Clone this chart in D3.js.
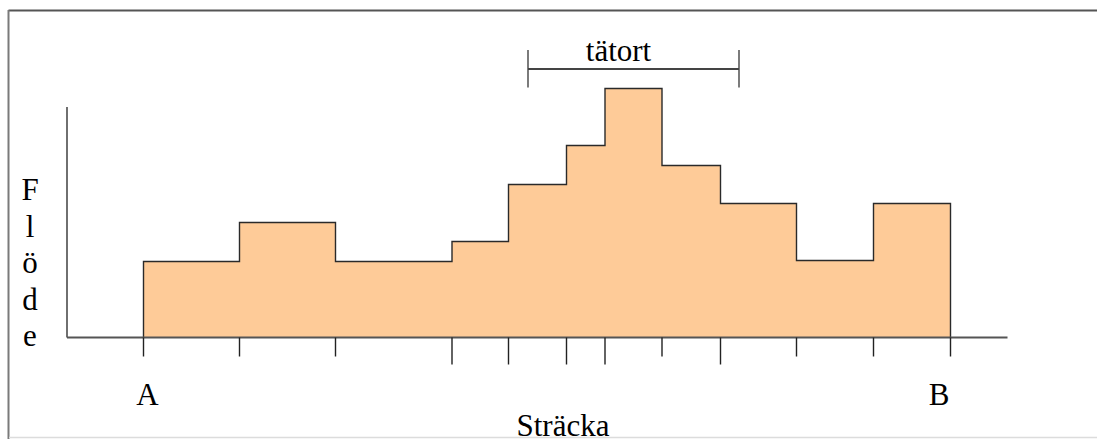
<!DOCTYPE html>
<html>
<head>
<meta charset="utf-8">
<script src="https://cdn.jsdelivr.net/npm/d3@7"></script>
<style>
  html, body { margin: 0; padding: 0; background: #fff; }
  svg { display: block; }
</style>
</head>
<body>
<svg id="chart" width="1097" height="439"></svg>
<script>
// Segment boundaries along the route (distance units from A)
const boundaries = [0, 96, 192, 308.5, 365, 423, 461.5, 518.5, 577, 653, 730, 807];
// Flow value for each segment between consecutive boundaries
const flows = [76, 115, 76, 96, 153, 192, 249, 172, 134, 77, 134];
// Which tick marks are drawn longer in the original
const longTicks = [false, false, false, true, true, true, true, false, true, false, false, false];
// Town section (tätort) extent
const townExtent = [384.5, 595.5];
const townLabel = "tätort";
const endLabels = ["A", "B"];
const xTitle = "Sträcka";
const yTitle = ["F", "l", "ö", "d", "e"];

const FONT = "'Liberation Serif', 'Times New Roman', Times, 'DejaVu Serif', serif";

const svg = d3.select("#chart");
const W = 1097, H = 439;

// frame
svg.append("line").attr("x1", 8.5).attr("x2", W).attr("y1", 10.5).attr("y2", 10.5)
  .attr("stroke", "#555").attr("stroke-width", 2);
svg.append("line").attr("x1", 8.5).attr("x2", 8.5).attr("y1", 10).attr("y2", H)
  .attr("stroke", "#7a7a7a").attr("stroke-width", 2);
svg.append("line").attr("x1", 9).attr("x2", W).attr("y1", 437.5).attr("y2", 437.5)
  .attr("stroke", "#dcdcdc").attr("stroke-width", 1.5);

const x = d3.scaleLinear().domain([0, 807]).range([143.5, 950.5]);
const y = d3.scaleLinear().domain([0, 250]).range([337.5, 87.5]);

// step area
const pts = [];
flows.forEach((v, i) => {
  pts.push([boundaries[i], v]);
  pts.push([boundaries[i + 1], v]);
});
const area = d3.area().x(d => x(d[0])).y0(y(0)).y1(d => y(d[1]));
const line = d3.line().x(d => x(d[0])).y(d => y(d[1]));
svg.append("path").datum(pts).attr("d", area).attr("fill", "#fecb98");
const outline = [[boundaries[0], 0], ...pts, [boundaries[boundaries.length - 1], 0]];
svg.append("path").datum(outline).attr("d", line)
  .attr("fill", "none").attr("stroke", "#2a2a2a").attr("stroke-width", 1.4);

// y axis (plain line)
svg.append("line").attr("x1", x(-76.5)).attr("x2", x(-76.5))
  .attr("y1", y(230.5)).attr("y2", y(0))
  .attr("stroke", "#333").attr("stroke-width", 1.4);

// x axis line
svg.append("line").attr("x1", x(-76.5)).attr("x2", x(864))
  .attr("y1", y(0)).attr("y2", y(0))
  .attr("stroke", "#555").attr("stroke-width", 2);

// ticks at boundaries
const xAxisG = svg.append("g").attr("transform", `translate(0,${y(0)})`);
xAxisG.selectAll("line.tick").data(boundaries).enter().append("line")
  .attr("class", "tick")
  .attr("x1", d => x(d)).attr("x2", d => x(d))
  .attr("y1", 0).attr("y2", (d, i) => longTicks[i] ? 27 : 19)
  .attr("stroke", "#222").attr("stroke-width", 1.4);

function txt(xp, yp, s) {
  return svg.append("text").attr("x", xp).attr("y", yp)
    .attr("text-anchor", "middle")
    .attr("font-family", FONT)
    .style("font-family", FONT)
    .attr("font-size", 31).attr("fill", "#000").text(s);
}

// end labels
txt(x(boundaries[0]) + 4, 405, endLabels[0]);
txt(x(boundaries[boundaries.length - 1]) - 11.5, 405, endLabels[1]);

// x title
txt(563, 436, xTitle);

// y title (stacked letters)
yTitle.forEach((s, i) => txt(30, 200 + i * 36.5, s));

// town bracket
const tb = svg.append("g");
tb.append("line").attr("x1", x(townExtent[0])).attr("x2", x(townExtent[1]))
  .attr("y1", 69).attr("y2", 69).attr("stroke", "#444").attr("stroke-width", 2);
townExtent.forEach(v => {
  tb.append("line").attr("x1", x(v)).attr("x2", x(v))
    .attr("y1", 50).attr("y2", 87.5).attr("stroke", "#444").attr("stroke-width", 1.4);
});
txt((x(townExtent[0]) + x(townExtent[1])) / 2 - 15, 60.5, townLabel);
</script>
</body>
</html>
